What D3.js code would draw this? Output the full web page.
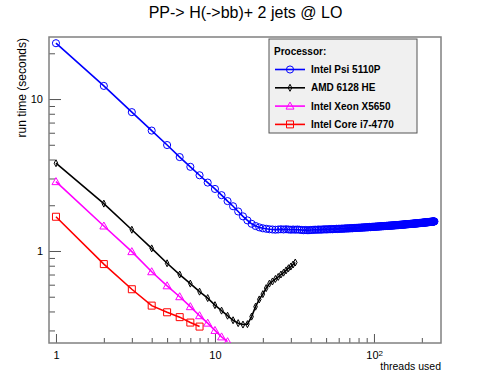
<!DOCTYPE html>
<html><head><meta charset="utf-8">
<script src="https://cdn.jsdelivr.net/npm/d3@7"></script>
<style>body{margin:0;background:#fff}text{font-family:"Liberation Sans",Arial,sans-serif}</style>
</head><body><svg id="c" width="491" height="382"></svg>
<script>
const title = "PP-> H(->bb)+ 2 jets @ LO";
const xTitle = "threads used";
const yTitle = "run time (seconds)";
const legendTitle = "Processor:";
const seriesNames = ["Intel Psi 5110P", "AMD 6128 HE", "Intel Xeon X5650", "Intel Core i7-4770"];
const seriesColors = ["#0000ff", "#000000", "#ff00ff", "#ff0000"];
const seriesMarkers = ["circle", "diamond", "triangle", "square"];
const xMajorTicks = [1, 10, 100];
const yMajorTicks = [1, 10];

// Intel Psi 5110P: threads 1..240
const psiValues = [
 23.3,12.2,8.2,6.2,4.98,4.15,3.58,3.15,2.82,2.56,
 2.33,2.13,1.97,1.82,1.69,1.59,1.51,1.46,1.43,1.41,
 1.40,1.39,1.385,1.38,1.385,1.39,1.385,1.39,1.385,1.38,
 1.385,1.38,1.385,1.38,1.375,1.37,1.375,1.37,1.37,1.375,
 1.375,1.38,1.38,1.38,1.385,1.38,1.385,1.385,1.39,1.385,
 1.39,1.39,1.39,1.395,1.39,1.395,1.395,1.4,1.395,1.4,
 1.4,1.4,1.405,1.4,1.405,1.405,1.41,1.405,1.41,1.41,
 1.41,1.415,1.41,1.415,1.415,1.42,1.415,1.42,1.42,1.42,
 1.425,1.42,1.425,1.425,1.43,1.425,1.43,1.43,1.43,1.435,
 1.43,1.435,1.435,1.44,1.435,1.44,1.44,1.44,1.445,1.44,
 1.445,1.445,1.445,1.45,1.445,1.45,1.45,1.45,1.455,1.45,
 1.455,1.455,1.455,1.46,1.455,1.46,1.46,1.46,1.46,1.465,
 1.46,1.465,1.465,1.465,1.47,1.465,1.47,1.47,1.47,1.47,
 1.475,1.47,1.475,1.475,1.475,1.48,1.475,1.48,1.48,1.48,
 1.48,1.485,1.48,1.485,1.485,1.485,1.49,1.485,1.49,1.49,
 1.49,1.49,1.495,1.49,1.495,1.495,1.495,1.5,1.495,1.5,
 1.5,1.5,1.5,1.505,1.5,1.505,1.505,1.505,1.505,1.51,
 1.505,1.51,1.51,1.51,1.51,1.515,1.51,1.515,1.515,1.515,
 1.515,1.52,1.515,1.52,1.52,1.52,1.52,1.525,1.52,1.525,
 1.525,1.525,1.525,1.53,1.525,1.53,1.53,1.53,1.53,1.535,
 1.53,1.535,1.535,1.535,1.535,1.54,1.535,1.54,1.54,1.54,
 1.54,1.545,1.54,1.545,1.545,1.545,1.545,1.55,1.545,1.55,
 1.55,1.55,1.55,1.555,1.55,1.555,1.555,1.555,1.555,1.56,
 1.555,1.56,1.56,1.56,1.56,1.565,1.56,1.565,1.565,1.565
];
// AMD 6128 HE: threads 1..32
const amdValues = [3.78,2.05,1.38,1.04,0.83,0.70,0.61,0.54,0.49,0.44,
 0.405,0.375,0.35,0.335,0.328,0.33,0.37,0.43,0.48,0.52,
 0.57,0.61,0.63,0.655,0.675,0.70,0.72,0.745,0.77,0.79,0.815,0.84];
// Intel Xeon X5650: threads 1..12
const xeonValues = [2.86,1.46,0.99,0.73,0.59,0.50,0.43,0.375,0.335,0.30,0.272,0.253];
// Intel Core i7-4770: threads 1..8
const coreValues = [1.68,0.82,0.56,0.437,0.395,0.367,0.338,0.318];

const allValues = [psiValues, amdValues, xeonValues, coreValues];

const svg = d3.select("#c");
const L = 49, R = 441, T = 37, B = 343;
const x = d3.scaleLog().domain([0.904, 264]).range([L, R]);
const y = d3.scaleLog().domain([0.248, 25.6]).range([B, T]);

// minor ticks
function minorTicks(dom) {
  const out = [];
  for (let p = -2; p <= 3; p++) for (let m = 1; m <= 9; m++) {
    const v = m * Math.pow(10, p);
    if (v >= dom[0] && v <= dom[1] && m !== 1) out.push(v);
  }
  return out;
}
const gx = svg.append("g").attr("transform", `translate(0,${B})`);
gx.call(d3.axisBottom(x).tickValues(minorTicks(x.domain())).tickSize(-5).tickFormat(""));
gx.call(g => g.select(".domain").remove());
const gx2 = svg.append("g").attr("transform", `translate(0,${B})`);
gx2.call(d3.axisBottom(x).tickValues(xMajorTicks).tickSize(-9).tickPadding(8).tickFormat(d => d === 100 ? "10" : String(d)));
gx2.call(g => g.select(".domain").remove());
gx2.selectAll("text").attr("font-size", 11).attr("fill", "#000").attr("font-family", "Liberation Sans, Arial, sans-serif").attr("dx", d => d === 100 ? -2 : 0);
gx2.selectAll(".tick").filter(d => d === 100).append("text")
  .attr("x", 4).attr("y", 13).attr("font-size", 8).attr("fill", "#000").attr("text-anchor", "start").text("2");

const gy = svg.append("g").attr("transform", `translate(${L},0)`);
gy.call(d3.axisLeft(y).tickValues(minorTicks(y.domain())).tickSize(-6).tickFormat(""));
gy.call(g => g.select(".domain").remove());
const gy2 = svg.append("g").attr("transform", `translate(${L},0)`);
gy2.call(d3.axisLeft(y).tickValues(yMajorTicks).tickSize(-12).tickPadding(6).tickFormat(d => String(d)));
gy2.call(g => g.select(".domain").remove());
gy2.selectAll("text").attr("font-size", 11).attr("fill", "#000").attr("font-family", "Liberation Sans, Arial, sans-serif");
svg.selectAll(".tick line").attr("stroke", "#555").attr("stroke-width", 1);

// frame
svg.append("rect").attr("x", L).attr("y", T).attr("width", R - L).attr("height", B - T)
  .attr("fill", "none").attr("stroke", "#808080").attr("stroke-width", 1.5);

// clip
svg.append("clipPath").attr("id", "clip").append("rect").attr("x", L).attr("y", T - 6).attr("width", R - L + 6).attr("height", B - T + 6);

function markerPath(kind) {
  if (kind === "circle") return d3.symbol().type(d3.symbolCircle).size(40)();
  if (kind === "square") return "M-3.5,-3.5H3.5V3.5H-3.5Z";
  if (kind === "triangle") return "M0,-4L4,3L-4,3Z";
  return "M0,-3.5L1.8,0L0,3.5L-1.8,0Z";
}

const plot = svg.append("g").attr("clip-path", "url(#clip)");
const line = d3.line().x(d => x(d[0])).y(d => y(d[1]));
allValues.forEach((vals, i) => {
  const pts = vals.map((v, k) => [k + 1, v]);
  const g = plot.append("g");
  g.append("path").datum(pts).attr("d", line).attr("fill", "none")
    .attr("stroke", seriesColors[i]).attr("stroke-width", 1.6);
  g.selectAll("path.m").data(pts).enter().append("path").attr("class", "m")
    .attr("transform", d => `translate(${x(d[0])},${y(d[1])})`)
    .attr("d", markerPath(seriesMarkers[i]))
    .attr("fill", "none").attr("stroke", seriesColors[i]).attr("stroke-width", 1);
});

// title
svg.append("text").attr("x", 245.5).attr("y", 17.5).attr("text-anchor", "middle")
  .attr("font-size", 16).text(title);
svg.append("text").attr("x", R).attr("y", 370).attr("text-anchor", "end")
  .attr("font-size", 10.5).text(xTitle);
svg.append("text").attr("transform", `translate(26,${T + 1}) rotate(-90)`).attr("text-anchor", "end")
  .attr("font-size", 12).text(yTitle);

// legend
const lg = svg.append("g");
lg.append("rect").attr("x", 269).attr("y", 39).attr("width", 148).attr("height", 94)
  .attr("fill", "#f0f0f0").attr("stroke", "#555").attr("stroke-width", 1);
lg.append("text").attr("x", 274).attr("y", 54.5).attr("font-size", 10).attr("font-weight", "bold").text(legendTitle);
seriesNames.forEach((n, i) => {
  const yy = 69.5 + i * 18.3;
  lg.append("line").attr("x1", 275).attr("x2", 305).attr("y1", yy).attr("y2", yy)
    .attr("stroke", seriesColors[i]).attr("stroke-width", 1.6);
  lg.append("path").attr("transform", `translate(290,${yy})`).attr("d", markerPath(seriesMarkers[i]))
    .attr("fill", "none").attr("stroke", seriesColors[i]).attr("stroke-width", 1);
  lg.append("text").attr("x", 311).attr("y", yy + 3.5).attr("font-size", 10).attr("font-weight", "bold").text(n);
});
</script></body></html>
